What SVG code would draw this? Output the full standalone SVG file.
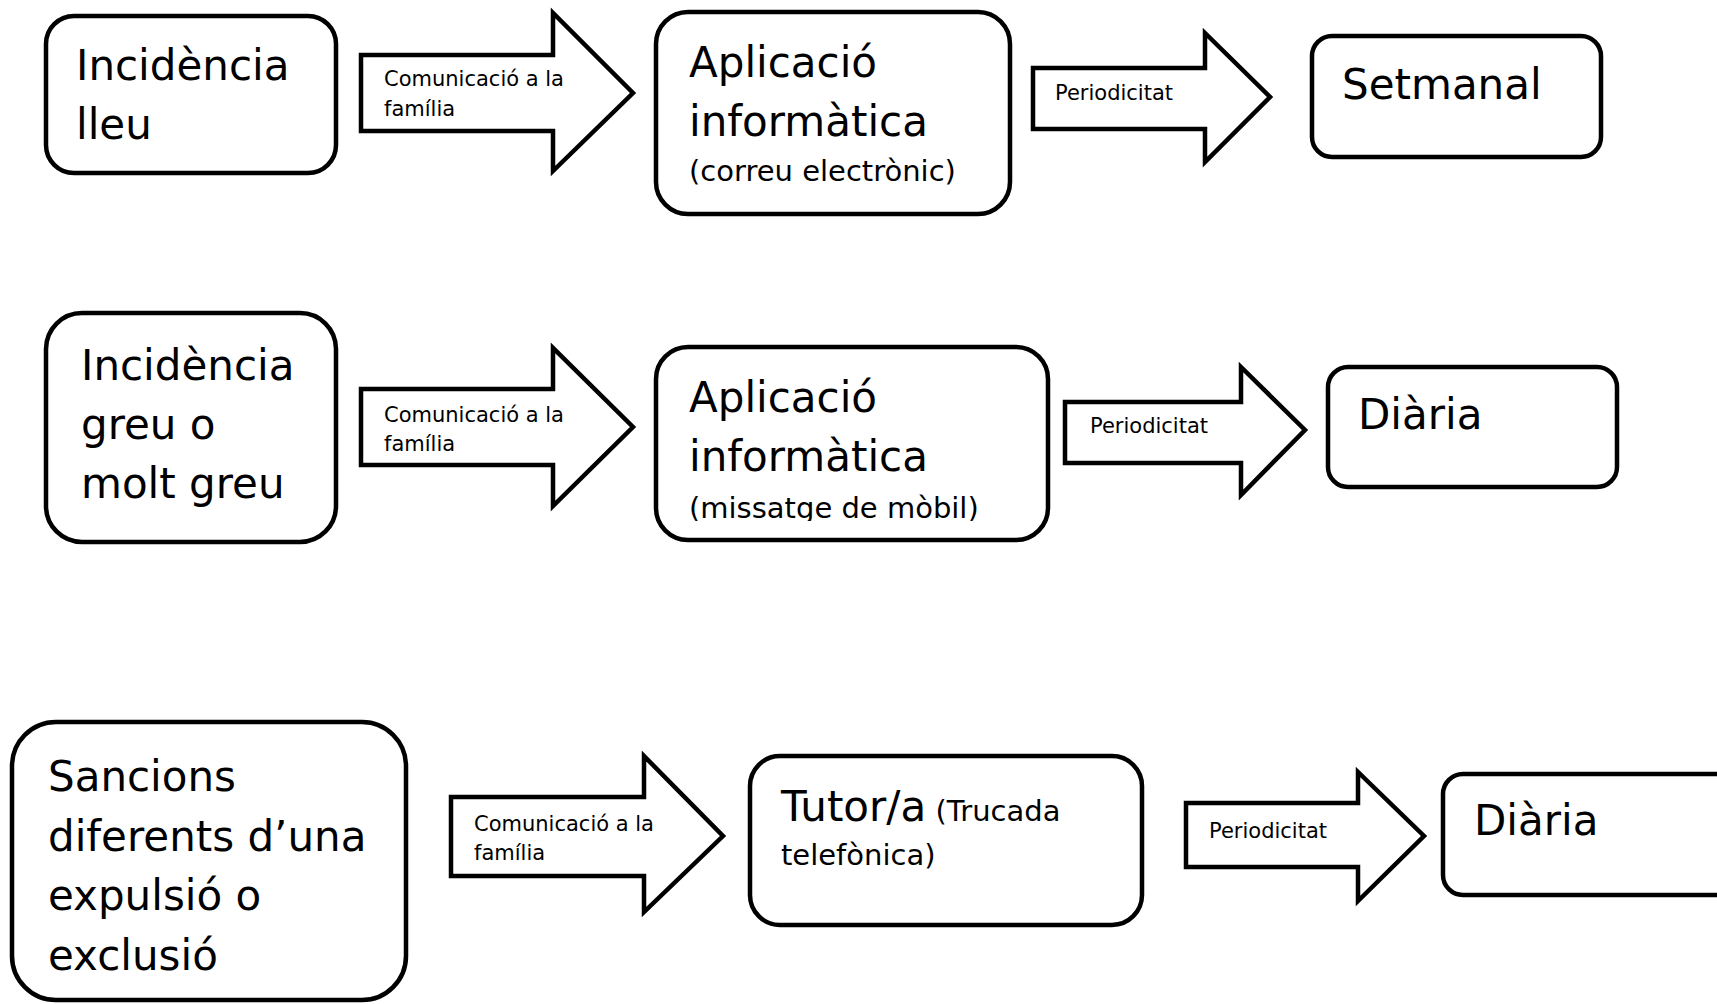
<svg xmlns="http://www.w3.org/2000/svg" width="1717" height="1004" viewBox="0 0 1717 1004">
<style>
.box{fill:#fff;stroke:#000;stroke-width:4.5}
.arr{fill:#fff;stroke:#000;stroke-width:4.5;stroke-linejoin:miter}
text{font-family:"DejaVu Sans","Verdana",sans-serif;fill:#000}
.big{font-size:42px}
.mid{font-size:29px}
.sm{font-size:21px}
</style>
<defs>
<clipPath id="clip5"><rect x="656" y="347" width="392" height="174"/></clipPath>
</defs>
<rect width="1717" height="1004" fill="#fff"/>
<g id="connectors">
<polygon class="arr" points="361,55 553,55 553,13 633,93 553,171 553,131 361,131"/>
<polygon class="arr" points="1033,68 1205,68 1205,33 1270,97 1205,162 1205,129 1033,129"/>
<polygon class="arr" points="361,389 553,389 553,348 633,427 553,506 553,465 361,465"/>
<polygon class="arr" points="1065,402 1241,402 1241,367 1305,430 1241,495 1241,463 1065,463"/>
<polygon class="arr" points="451,797 644,797 644,756 723,836 644,912 644,876 451,876"/>
<polygon class="arr" points="1186,803 1358,803 1358,772 1424,836 1358,901 1358,867 1186,867"/>
<text class="sm" x="384" y="86">Comunicació a la</text>
<text class="sm" x="384" y="116">família</text>
<text class="sm" x="1055" y="100">Periodicitat</text>
<text class="sm" x="384" y="422">Comunicació a la</text>
<text class="sm" x="384" y="451">família</text>
<text class="sm" x="1090" y="433">Periodicitat</text>
<text class="sm" x="474" y="831">Comunicació a la</text>
<text class="sm" x="474" y="860">família</text>
<text class="sm" x="1209" y="838">Periodicitat</text>
</g>
<g id="n1">
<rect class="box" x="46" y="16" width="290" height="157" rx="28"/>
<text class="big" x="76" y="80">Incidència</text>
<text class="big" x="76" y="139">lleu</text>
</g>
<g id="n2">
<rect class="box" x="656" y="12" width="354" height="202" rx="32"/>
<text class="big" x="689" y="77">Aplicació</text>
<text class="big" x="689" y="136">informàtica</text>
<text class="mid" x="689" y="181">(correu electrònic)</text>
</g>
<g id="n3">
<rect class="box" x="1312" y="36" width="289" height="121" rx="20"/>
<text class="big" x="1342" y="99">Setmanal</text>
</g>
<g id="n4">
<rect class="box" x="46" y="313" width="290" height="229" rx="36"/>
<text class="big" x="81" y="380">Incidència</text>
<text class="big" x="81" y="439">greu o</text>
<text class="big" x="81" y="498">molt greu</text>
</g>
<g id="n5">
<rect class="box" x="656" y="347" width="392" height="193" rx="32"/>
<g clip-path="url(#clip5)">
<text class="big" x="689" y="412">Aplicació</text>
<text class="big" x="689" y="471">informàtica</text>
<text class="mid" x="689" y="518">(missatge de mòbil)</text>
</g>
</g>
<g id="n6">
<rect class="box" x="1328" y="367" width="289" height="120" rx="20"/>
<text class="big" x="1358" y="429">Diària</text>
</g>
<g id="n7">
<rect class="box" x="12" y="722" width="394" height="278" rx="44"/>
<text class="big" x="48" y="791">Sancions</text>
<text class="big" x="48" y="851">diferents d’una</text>
<text class="big" x="48" y="910">expulsió o</text>
<text class="big" x="48" y="970">exclusió</text>
</g>
<g id="n8">
<rect class="box" x="750" y="756" width="392" height="169" rx="30"/>
<text x="781" y="821"><tspan class="big">Tutor/a</tspan><tspan class="mid"> (Trucada</tspan></text>
<text class="mid" x="781" y="865">telefònica)</text>
</g>
<g id="n9">
<rect class="box" x="1443" y="774" width="300" height="121" rx="20"/>
<text class="big" x="1474" y="835">Diària</text>
</g>
</svg>
